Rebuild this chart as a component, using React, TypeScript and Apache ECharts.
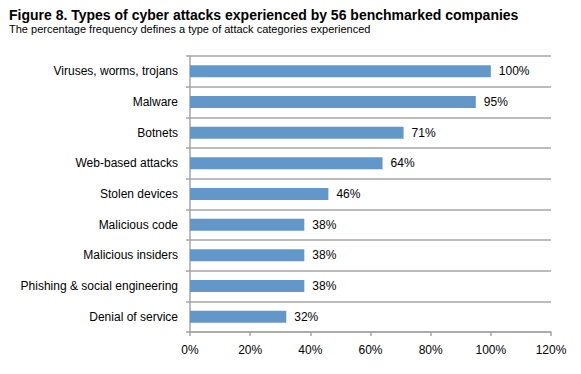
import React, { useEffect, useRef } from "react";
import * as echarts from "echarts";

const categories = [
  "Viruses, worms, trojans",
  "Malware",
  "Botnets",
  "Web-based attacks",
  "Stolen devices",
  "Malicious code",
  "Malicious insiders",
  "Phishing & social engineering",
  "Denial of service",
];
const values = [100, 95, 71, 64, 46, 38, 38, 38, 32];
const titleText = "Figure 8. Types of cyber attacks experienced by 56 benchmarked companies";
const subtitleText = "The percentage frequency defines a type of attack categories experienced";

export default function App() {
  const ref = useRef<HTMLDivElement>(null);
  useEffect(() => {
    if (!ref.current) return;
    const chart = echarts.init(ref.current, null, { renderer: "svg" });
    const font = "Liberation Sans, Arial, sans-serif";
    chart.setOption({
      animation: false,
      title: {
        text: titleText,
        subtext: subtitleText,
        left: 4,
        top: 3,
        itemGap: 1,
        textStyle: { fontFamily: font, fontSize: 14, fontWeight: "bold", color: "#000" },
        subtextStyle: { fontFamily: font, fontSize: 11, color: "#000" },
      },
      grid: { left: 190, right: 30, top: 56, bottom: 42, containLabel: false },
      xAxis: {
        type: "value",
        min: 0,
        max: 120,
        interval: 20,
        axisLine: { show: true, lineStyle: { color: "#a6a6a6", width: 1.5 } },
        axisTick: { show: true, length: 4, lineStyle: { color: "#a6a6a6", width: 1.5 } },
        splitLine: { show: false },
        axisLabel: {
          formatter: "{value}%",
          fontFamily: font,
          fontSize: 12,
          color: "#000",
          margin: 12,
        },
      },
      yAxis: {
        type: "category",
        data: categories,
        inverse: true,
        axisLine: { show: true, lineStyle: { color: "#a6a6a6", width: 1.5 } },
        axisTick: { show: true, length: 4, lineStyle: { color: "#a6a6a6", width: 1.5 } },
        splitLine: { show: true, lineStyle: { color: "#a6a6a6", width: 1.5 } },
        axisLabel: { fontFamily: font, fontSize: 12, color: "#000", margin: 12 },
      },
      series: [
        {
          type: "bar",
          data: values,
          barWidth: 12,
          itemStyle: { color: "#6497c9" },
          label: {
            show: true,
            position: "right",
            distance: 8,
            formatter: "{c}%",
            fontFamily: font,
            fontSize: 12,
            color: "#000",
          },
        },
      ],
    });
    return () => chart.dispose();
  }, []);
  return <div ref={ref} style={{ width: 581, height: 374, position: "absolute", left: 0, top: 0 }} />;
}
